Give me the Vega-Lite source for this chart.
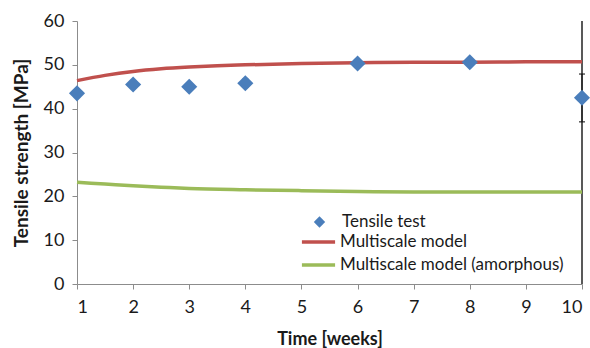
{
  "$schema": "https://vega.github.io/schema/vega-lite/v6.json",
  "autosize": "none",
  "width": 505,
  "height": 263,
  "padding": {"left": 77, "top": 21, "right": 8, "bottom": 64},
  "background": "white",
  "config": {
    "view": {"stroke": null},
    "font": "Lato",
    "axis": {"grid": false, "domainColor": "#8c8c8c", "tickColor": "#8c8c8c", "labelColor": "#1a1a1a", "titleColor": "#1a1a1a", "labelFont": "Lato", "titleFont": "Lato", "labelFontSize": 18, "titleFontSize": 18, "titleFontWeight": "bold", "tickSize": 5, "labelFontWeight": "normal"}
  },
  "datasets": {
    "points": [
      {"week": 1, "strength": 43.5, "lo": 42.7, "hi": 44.3, "series": "Tensile test"},
      {"week": 2, "strength": 45.5, "lo": 45.5, "hi": 45.5, "series": "Tensile test"},
      {"week": 3, "strength": 45.0, "lo": 45.0, "hi": 45.0, "series": "Tensile test"},
      {"week": 4, "strength": 45.8, "lo": 44.9, "hi": 46.7, "series": "Tensile test"},
      {"week": 6, "strength": 50.3, "lo": 50.3, "hi": 50.3, "series": "Tensile test"},
      {"week": 8, "strength": 50.6, "lo": 50.6, "hi": 50.6, "series": "Tensile test"},
      {"week": 10, "strength": 42.5, "lo": 37.0, "hi": 47.9, "series": "Tensile test"}
    ],
    "curves": [
      {"week": 1, "strength": 46.4, "series": "Multiscale model"},
      {"week": 1.5, "strength": 47.6, "series": "Multiscale model"},
      {"week": 2, "strength": 48.5, "series": "Multiscale model"},
      {"week": 2.5, "strength": 49.1, "series": "Multiscale model"},
      {"week": 3, "strength": 49.5, "series": "Multiscale model"},
      {"week": 3.5, "strength": 49.8, "series": "Multiscale model"},
      {"week": 4, "strength": 50.0, "series": "Multiscale model"},
      {"week": 5, "strength": 50.3, "series": "Multiscale model"},
      {"week": 6, "strength": 50.5, "series": "Multiscale model"},
      {"week": 7, "strength": 50.6, "series": "Multiscale model"},
      {"week": 8, "strength": 50.6, "series": "Multiscale model"},
      {"week": 9, "strength": 50.7, "series": "Multiscale model"},
      {"week": 10, "strength": 50.7, "series": "Multiscale model"},
      {"week": 1, "strength": 23.2, "series": "Multiscale model (amorphous)"},
      {"week": 1.5, "strength": 22.8, "series": "Multiscale model (amorphous)"},
      {"week": 2, "strength": 22.4, "series": "Multiscale model (amorphous)"},
      {"week": 2.5, "strength": 22.1, "series": "Multiscale model (amorphous)"},
      {"week": 3, "strength": 21.8, "series": "Multiscale model (amorphous)"},
      {"week": 4, "strength": 21.5, "series": "Multiscale model (amorphous)"},
      {"week": 5, "strength": 21.3, "series": "Multiscale model (amorphous)"},
      {"week": 6, "strength": 21.1, "series": "Multiscale model (amorphous)"},
      {"week": 7, "strength": 21.0, "series": "Multiscale model (amorphous)"},
      {"week": 8, "strength": 21.0, "series": "Multiscale model (amorphous)"},
      {"week": 9, "strength": 21.0, "series": "Multiscale model (amorphous)"},
      {"week": 10, "strength": 21.0, "series": "Multiscale model (amorphous)"}
    ],
    "border": [{"week": 10, "lo": 0, "hi": 60}]
  },
  "layer": [
    {
      "data": {"name": "border"},
      "mark": {"type": "rule", "color": "#222", "strokeWidth": 1.5},
      "encoding": {
        "x": {"field": "week", "type": "quantitative", "scale": {"domain": [1, 10], "nice": false, "zero": false}, "axis": {"values": [1,2,3,4,5,6,7,8,9,10], "format": "d", "title": "Time [weeks]", "labelPadding": 9, "titlePadding": 14}},
        "y": {"field": "lo", "type": "quantitative", "scale": {"domain": [0, 60], "nice": false}, "axis": {"values": [0,10,20,30,40,50,60], "title": "Tensile  strength [MPa]", "titleFontSize": 19, "labelPadding": 8, "titlePadding": 12}},
        "y2": {"field": "hi"}
      }
    },
    {
      "data": {"name": "curves"},
      "mark": {"type": "line", "strokeWidth": 3.5, "interpolate": "monotone"},
      "encoding": {
        "x": {"field": "week", "type": "quantitative"},
        "y": {"field": "strength", "type": "quantitative"},
        "stroke": {"field": "series", "type": "nominal", "scale": {"domain": ["Multiscale model", "Multiscale model (amorphous)"], "range": ["#c0504d", "#9bbb59"]}, "legend": {"title": null, "orient": "none", "legendX": 223, "legendY": 212, "symbolType": "stroke", "symbolSize": 1100, "symbolStrokeWidth": 3.5, "clipHeight": 18, "labelLimit": 0, "labelFontSize": 17, "labelFont": "Lato", "labelColor": "#1a1a1a", "labelOffset": 3, "rowPadding": 5}}
      }
    },
    {
      "data": {"name": "points"},
      "mark": {"type": "rule", "color": "#111", "strokeWidth": 1},
      "encoding": {
        "x": {"field": "week", "type": "quantitative"},
        "y": {"field": "lo", "type": "quantitative"},
        "y2": {"field": "hi"}
      }
    },
    {
      "data": {"name": "points"},
      "mark": {"type": "tick", "color": "#111", "orient": "horizontal", "size": 6, "thickness": 1.5},
      "encoding": {
        "x": {"field": "week", "type": "quantitative"},
        "y": {"field": "lo", "type": "quantitative"}
      }
    },
    {
      "data": {"name": "points"},
      "mark": {"type": "tick", "color": "#111", "orient": "horizontal", "size": 6, "thickness": 1.5},
      "encoding": {
        "x": {"field": "week", "type": "quantitative"},
        "y": {"field": "hi", "type": "quantitative"}
      }
    },
    {
      "data": {"name": "points"},
      "mark": {"type": "point", "filled": true, "size": 260, "color": "#4a7ebb", "opacity": 1},
      "encoding": {
        "x": {"field": "week", "type": "quantitative"},
        "y": {"field": "strength", "type": "quantitative"},
        "shape": {"field": "series", "type": "nominal", "scale": {"domain": ["Tensile test"], "range": ["diamond"]}, "legend": {"title": null, "orient": "none", "legendX": 234, "legendY": 192, "symbolSize": 130, "symbolFillColor": "#4a7ebb", "symbolStrokeColor": "#4a7ebb", "symbolStrokeWidth": 0, "clipHeight": 18, "labelFontSize": 17, "labelFont": "Lato", "labelColor": "#1a1a1a", "labelOffset": 14}}
      }
    }
  ]
}
